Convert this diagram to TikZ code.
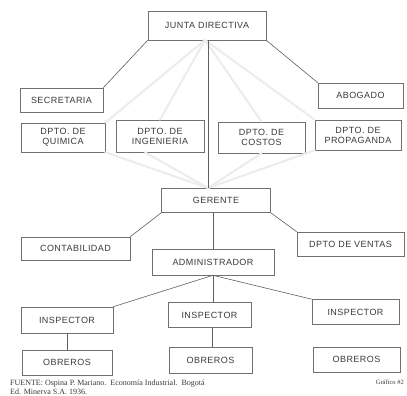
\documentclass[tikz,border=0pt]{standalone}
\usepackage{fontspec}
\setmainfont{Liberation Serif}
\newfontfamily\boxfont[LetterSpace=5]{Liberation Sans}
\definecolor{boxgray}{HTML}{707070}
\definecolor{linegray}{HTML}{606060}
\definecolor{txtgray}{HTML}{3A3A3A}
\definecolor{faintgray}{HTML}{ECECEC}
\newcommand{\mybox}[6]{\node[box, minimum width=#4pt, minimum height=#5pt] (#1) at (#2,#3) {#6};}
\begin{document}
\begin{tikzpicture}[x=1pt,y=-1pt,
  box/.style={draw=boxgray, line width=0.6pt, text=txtgray, fill=white,
    font=\boxfont\fontsize{9}{10}\selectfont, align=center, inner sep=0pt},
  conn/.style={draw=linegray, line width=0.6pt},
  faint/.style={draw=faintgray, line width=2pt, line cap=round},
  foot/.style={text=txtgray, inner sep=0pt, anchor=base west, font=\fontsize{8}{9}\selectfont}]
\fill[white] (0,0) rectangle (407,396);
\useasboundingbox (0,0) rectangle (407,396);
\coordinate (jb) at (205,40);
\coordinate (gt) at (208,188);
\mybox{junta}{207}{25.5}{118}{29}{JUNTA DIRECTIVA}
\mybox{secre}{61.5}{100}{83}{24}{SECRETARIA}
\mybox{abog}{360.5}{95.5}{85}{25}{ABOGADO}
\mybox{quim}{63}{137.5}{84}{29}{DPTO. DE\\QUIMICA}
\mybox{ing}{160}{136}{88}{32}{DPTO. DE\\INGENIERIA}
\mybox{cost}{261.5}{137.5}{87}{31}{DPTO. DE\\COSTOS}
\mybox{prop}{358}{135}{86}{30}{DPTO. DE\\PROPAGANDA}
\mybox{ger}{216}{200.5}{109}{24}{GERENTE}
\mybox{cont}{75.5}{248.5}{109}{23}{CONTABILIDAD}
\mybox{vent}{350.5}{244}{107}{24}{DPTO DE VENTAS}
\mybox{adm}{213}{262}{122}{26}{ADMINISTRADOR}
\mybox{insp1}{67}{320}{92}{26}{INSPECTOR}
\mybox{insp2}{209.5}{315}{83}{25}{INSPECTOR}
\mybox{insp3}{355.5}{312}{87}{25}{INSPECTOR}
\mybox{obr1}{67}{362.5}{90}{25}{OBREROS}
\mybox{obr2}{210.5}{360}{83}{26}{OBREROS}
\mybox{obr3}{356.5}{359.5}{87}{25}{OBREROS}
% faint fan lines
\draw[faint] (jb) -- (quim.north east);
\draw[faint] (jb) -- (ing.north);
\draw[faint] (jb) -- (cost.north);
\draw[faint] (jb) -- (prop.north west);
\draw[faint] (quim.south east) -- (gt);
\draw[faint] ([xshift=-15pt]ing.south) -- (gt);
\draw[faint] (cost.south) -- (gt);
\draw[faint] (prop.south west) -- (gt);
% connectors
\draw[conn] (junta.south west) -- (secre.north east);
\draw[conn] (junta.south east) -- (abog.north west);
\draw[conn] ([xshift=1pt]junta.south) -- ([xshift=1pt]junta.south |- ger.north);
\draw[conn] (ger.south west) -- (cont.north east);
\draw[conn] (ger.south east) -- (vent.north west);
\draw[conn] (adm.north) -- (adm.north |- ger.south);
\draw[conn] (adm.south) -- (insp1.north east);
\draw[conn] (adm.south) -- (adm.south |- insp2.north);
\draw[conn] (adm.south) -- (insp3.north west);
\draw[conn] (insp1.south) -- (insp1.south |- obr1.north);
\draw[conn] ([xshift=3pt]insp2.south) -- ([xshift=3pt]insp2.south |- obr2.north);
% footer
\node[foot] (f1) at (10,385) {FUENTE: Ospina P. Mariano.\ \ Economía Industrial.\ \ Bogotá};
\node[foot] (f2) at (10,394) {Ed. Minerva S.A. 1936.};
\node[foot, anchor=base east, font=\fontsize{6.5}{7}\selectfont] (f3) at (404,384) {Gráfico \#2};
\end{tikzpicture}
\end{document}
